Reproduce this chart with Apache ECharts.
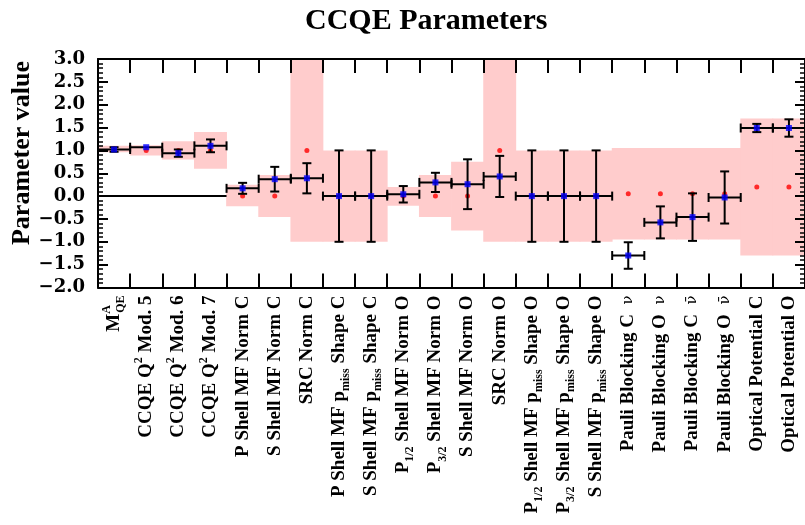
<!DOCTYPE html>
<html><head><meta charset="utf-8">
<script src="https://cdn.jsdelivr.net/npm/echarts@6/dist/echarts.min.js"></script>
<style>html,body{margin:0;padding:0;background:#fff}#c{width:805px;height:525px}</style>
</head><body><div id="c"></div><script>
const categories = [
  '{b|M}{supz|A}{sub|QE}',
  '{b|CCQE Q}{sup|2}{b| Mod. 5}',
  '{b|CCQE Q}{sup|2}{b| Mod. 6}',
  '{b|CCQE Q}{sup|2}{b| Mod. 7}',
  '{b|P Shell MF Norm C}',
  '{b|S Shell MF Norm C}',
  '{b|SRC Norm C}',
  '{b|P Shell MF p}{sub|miss}{b| Shape C}',
  '{b|S Shell MF p}{sub|miss}{b| Shape C}',
  '{b|P}{sub|1/2}{b| Shell MF Norm O}',
  '{b|P}{sub|3/2}{b| Shell MF Norm O}',
  '{b|S Shell MF Norm O}',
  '{b|SRC Norm O}',
  '{b|P}{sub|1/2}{b| Shell MF p}{sub|miss}{b| Shape O}',
  '{b|P}{sub|3/2}{b| Shell MF p}{sub|miss}{b| Shape O}',
  '{b|S Shell MF p}{sub|miss}{b| Shape O}',
  '{b|Pauli Blocking C  }{nu|ν}',
  '{b|Pauli Blocking O  }{nu|ν}',
  '{b|Pauli Blocking C  }{nu|ν\u0304}',
  '{b|Pauli Blocking O  }{nu|ν\u0304}',
  '{b|Optical Potential C}',
  '{b|Optical Potential O}'
];
// prior uncertainty band (low / high)
const bandLow  = [0.96, 0.89, 0.80, 0.60, -0.22, -0.46, -1.0, -1.0, -1.0, -0.21, -0.46, -0.75, -1.0, -1.0, -1.0, -1.0, -0.95, -0.95, -0.95, -0.95, -1.3, -1.3];
const bandHigh = [1.10, 1.11, 1.20, 1.40, 0.25, 0.46, 3.0, 1.0, 1.0, 0.20, 0.46, 0.75, 3.0, 1.0, 1.0, 1.0, 1.05, 1.05, 1.05, 1.05, 1.7, 1.7];
// prior (nominal) values - red points
const priorValues = [1.03, 1.0, 1.0, 1.0, 0, 0, 1.0, 0, 0, 0, 0, 0, 1.0, 0, 0, 0, 0.05, 0.05, 0.05, 0.05, 0.2, 0.2];
// fitted values - blue points, with errors
const fitValues = [1.02, 1.07, 0.94, 1.10, 0.17, 0.37, 0.39, 0.0, 0.0, 0.04, 0.30, 0.26, 0.43, 0.0, 0.0, 0.0, -1.30, -0.575, -0.46, -0.03, 1.49, 1.49];
const fitErrors = [0.05, 0.02, 0.08, 0.14, 0.12, 0.27, 0.33, 1.0, 1.0, 0.18, 0.21, 0.545, 0.45, 1.0, 1.0, 1.0, 0.29, 0.35, 0.52, 0.57, 0.09, 0.19];
// zero reference line spans these categories
const zeroLineRange = [0, 3];
const yTicks = { min: -2.0, max: 3.0, interval: 0.5 };

const serif = '"Liberation Serif", "Times New Roman", serif';
const wideSerif = '"DejaVu Serif", serif';
const chart = echarts.init(document.getElementById('c'));

function bandRender(params, api) {
  const i = api.value(0);
  const lo = api.coord([i, api.value(1)]);
  const hi = api.coord([i, api.value(2)]);
  const w = api.size([1, 0])[0];
  return { type: 'rect', shape: { x: lo[0] - w / 2 - 0.4, y: hi[1], width: w + 0.8, height: lo[1] - hi[1] },
    style: { fill: '#ffcccc' } };
}
function errRender(params, api) {
  const i = api.value(0), v = api.value(1), e = api.value(2);
  const c = api.coord([i, v]);
  const t = api.coord([i, v + e]);
  const b = api.coord([i, v - e]);
  const w = api.size([1, 0])[0];
  const xl = c[0] - w / 2, xr = c[0] + w / 2, cap = 4.5;
  const st = { stroke: '#000', lineWidth: 2 };
  const ch = [
    { type: 'line', shape: { x1: xl, y1: c[1], x2: xr, y2: c[1] }, style: st },
    { type: 'line', shape: { x1: xl, y1: c[1] - cap, x2: xl, y2: c[1] + cap }, style: st },
    { type: 'line', shape: { x1: xr, y1: c[1] - cap, x2: xr, y2: c[1] + cap }, style: st }
  ];
  if (b[1] - c[1] > 2) {
    ch.push({ type: 'line', shape: { x1: c[0], y1: t[1], x2: c[0], y2: b[1] }, style: st });
    ch.push({ type: 'line', shape: { x1: c[0] - cap, y1: t[1], x2: c[0] + cap, y2: t[1] }, style: st });
    ch.push({ type: 'line', shape: { x1: c[0] - cap, y1: b[1], x2: c[0] + cap, y2: b[1] }, style: st });
  }
  return { type: 'group', children: ch };
}
function zeroRender(params, api) {
  const a = api.coord([api.value(0), api.value(2)]);
  const b = api.coord([api.value(1), api.value(2)]);
  const w = api.size([1, 0])[0];
  return { type: 'line', shape: { x1: a[0] - w / 2, y1: a[1], x2: b[0] + w / 2, y2: b[1] },
    style: { stroke: '#000', lineWidth: 2 } };
}

const bandData = categories.map((c, i) => [i, bandLow[i], bandHigh[i]]);
const errData = categories.map((c, i) => [i, fitValues[i], fitErrors[i]]);

const richStyles = {
  b: { fontFamily: serif, fontWeight: 'bold', fontSize: 19, lineHeight: 26, align: 'left', color: '#000' },
  sup: { fontFamily: serif, fontWeight: 'bold', fontSize: 12, lineHeight: 12, verticalAlign: 'top', align: 'left', color: '#000' },
  supz: { fontFamily: serif, fontWeight: 'bold', fontSize: 12, lineHeight: 12, verticalAlign: 'top', width: 1, align: 'left', color: '#000' },
  sub: { fontFamily: serif, fontWeight: 'bold', fontSize: 12, lineHeight: 12, verticalAlign: 'bottom', align: 'left', color: '#000' },
  nu: { fontFamily: wideSerif, fontWeight: 'normal', fontSize: 15, lineHeight: 26, align: 'left', color: '#000' }
};
const axisLine = { show: true, onZero: false, lineStyle: { color: '#000', width: 2 } };
const yLabelFmt = v => (v < 0 ? '\u2212' : '') + Math.abs(v).toFixed(1);

chart.setOption({
  animation: false,
  backgroundColor: '#fff',
  title: { text: 'CCQE Parameters', left: 305, top: 6, padding: 0,
    textStyle: { fontFamily: serif, fontWeight: 'bold', fontSize: 30, color: '#000' } },
  graphic: [{ type: 'text', x: 22, y: 153, rotation: Math.PI / 2,
    style: { text: 'Parameter value', font: 'bold 26px ' + serif, fill: '#000', textAlign: 'center', textVerticalAlign: 'middle' } }],
  grid: { left: 98, top: 59, width: 715.5, height: 228.5, containLabel: false },
  xAxis: [
    { type: 'category', data: categories, position: 'bottom', z: 10, axisLine,
      axisTick: { show: true, inside: true, length: 14, interval: 0, lineStyle: { color: '#000', width: 2 } },
      axisLabel: { interval: 0, rotate: 90, margin: 8, rich: richStyles, color: '#000' },
      splitLine: { show: false } },
    { type: 'category', data: categories, position: 'top', z: 10, axisLine,
      axisTick: { show: true, inside: true, length: 14, interval: 0, lineStyle: { color: '#000', width: 2 } },
      axisLabel: { show: false }, splitLine: { show: false } }
  ],
  yAxis: [
    { type: 'value', min: yTicks.min, max: yTicks.max, interval: yTicks.interval, position: 'left', z: 10, axisLine,
      axisTick: { show: true, inside: true, length: 10, lineStyle: { color: '#000', width: 2 } },
      minorTick: { show: true, splitNumber: 5, length: 5, lineStyle: { color: '#000', width: 1.5 } },
      axisLabel: { formatter: yLabelFmt, margin: 13, fontFamily: wideSerif, fontWeight: 'bold', fontSize: 18, color: '#000' },
      splitLine: { show: false } },
    { type: 'value', min: yTicks.min, max: yTicks.max, interval: yTicks.interval, position: 'right', z: 10, axisLine,
      axisTick: { show: true, inside: true, length: 10, lineStyle: { color: '#000', width: 2 } },
      minorTick: { show: true, splitNumber: 5, length: 5, lineStyle: { color: '#000', width: 1.5 } },
      axisLabel: { show: false }, splitLine: { show: false } }
  ],
  series: [
    { type: 'custom', name: 'prior band', z: 1, renderItem: bandRender, data: bandData, encode: { x: 0, y: [1, 2] }, clip: true },
    { type: 'custom', name: 'zero', z: 2, renderItem: zeroRender, data: [[zeroLineRange[0], zeroLineRange[1], 0]], encode: { x: [0, 1], y: 2 } },
    { type: 'scatter', name: 'prior', z: 3, data: priorValues, symbol: 'circle', symbolSize: 5, itemStyle: { color: '#ff0000' } },
    { type: 'custom', name: 'err', z: 4, renderItem: errRender, data: errData, encode: { x: 0, y: 1 } },
    { type: 'scatter', name: 'fit', z: 5, data: fitValues, symbol: 'rect', symbolSize: 6, itemStyle: { color: '#0000ff' } }
  ]
});
</script></body></html>
